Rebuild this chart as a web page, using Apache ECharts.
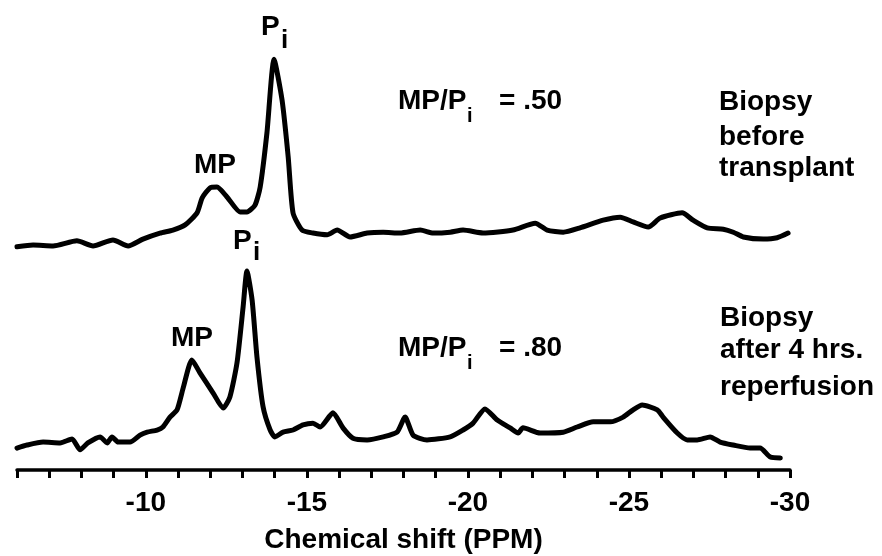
<!DOCTYPE html>
<html>
<head>
<meta charset="utf-8">
<script src="https://cdn.jsdelivr.net/npm/echarts@6/dist/echarts.min.js"></script>
<style>
html,body{margin:0;padding:0;background:#fff;}
#main{width:882px;height:556px;}
</style>
</head>
<body>
<div id="main"></div>
<script>
// Chemical shift (ppm) tick labels shown on the axis
var tickLabels = [-10, -15, -20, -25, -30];

// Top spectrum: biopsy before transplant  [ppm, relative intensity]
var beforeSpectrum = [
  [-6.0,1.9],[-6.5,2.3],[-7.12,2.1],[-7.86,3.3],[-8.36,2.1],[-8.98,3.5],[-9.45,2.1],[-9.91,3.7],
  [-10.44,5.1],[-10.84,5.8],[-11.22,7.0],[-11.59,9.8],[-11.75,13.3],[-11.99,15.6],[-12.21,15.8],
  [-12.52,13.5],[-12.93,10.0],[-13.14,10.0],[-13.39,11.6],[-13.55,15.8],[-13.76,28.4],[-13.98,45.5],
  [-14.23,36.0],[-14.42,22.8],[-14.57,9.8],[-14.85,5.8],[-15.19,5.1],[-15.63,4.7],[-15.94,5.8],
  [-16.34,4.2],[-16.87,5.1],[-17.37,5.3],[-17.89,5.1],[-18.52,5.8],[-18.92,5.1],[-19.45,5.3],
  [-19.85,5.8],[-20.47,5.1],[-21.40,5.8],[-22.09,7.4],[-22.46,5.8],[-22.96,5.3],[-23.48,6.3],
  [-24.20,8.1],[-24.73,8.8],[-25.13,7.7],[-25.60,6.5],[-25.97,8.6],[-26.65,9.8],[-26.99,8.1],
  [-27.43,6.3],[-27.93,6.0],[-28.24,5.3],[-28.55,4.2],[-29.17,3.7],[-29.60,4.0],[-29.94,5.1]
];

// Bottom spectrum: biopsy after 4 hrs. reperfusion  [ppm, relative intensity]
var afterSpectrum = [
  [-6.0,5.1],[-6.31,5.8],[-6.81,6.5],[-7.34,6.3],[-7.71,7.2],[-7.96,4.7],[-8.20,6.3],[-8.58,7.7],
  [-8.80,6.3],[-8.95,7.7],[-9.14,6.5],[-9.51,6.5],[-9.82,8.1],[-10.04,8.8],[-10.35,9.3],[-10.53,10.0],
  [-10.75,12.3],[-10.97,14.0],[-11.16,19.1],[-11.43,25.6],[-11.68,22.6],[-12.09,17.9],[-12.40,14.4],
  [-12.61,17.0],[-12.83,24.9],[-13.02,37.9],[-13.14,46.3],[-13.30,39.5],[-13.45,26.3],[-13.64,14.7],
  [-13.86,9.3],[-14.01,7.7],[-14.26,8.8],[-14.57,9.3],[-14.88,10.5],[-15.19,10.9],[-15.41,10.0],
  [-15.81,13.3],[-16.12,9.8],[-16.43,7.4],[-16.87,7.0],[-17.37,7.7],[-17.80,8.8],[-18.05,12.3],
  [-18.30,8.1],[-18.73,7.0],[-19.45,7.7],[-19.85,9.3],[-20.16,10.9],[-20.53,14.2],[-20.91,11.6],
  [-21.31,9.8],[-21.56,8.6],[-21.71,9.8],[-22.24,8.6],[-22.96,8.8],[-23.39,10.0],[-23.89,11.2],
  [-24.42,11.2],[-24.82,12.3],[-25.13,14.0],[-25.41,15.1],[-25.88,14.0],[-26.06,12.3],[-26.50,8.6],
  [-26.81,7.0],[-27.12,7.0],[-27.52,7.7],[-27.83,6.5],[-28.24,5.8],[-28.76,5.1],[-29.07,5.1],
  [-29.39,3.0],[-29.70,2.8]
];

// MP / Pi ratios
var ratioBefore = '.50';
var ratioAfter = '.80';

var TOP_OFFSET = 50; // vertical stacking of the upper trace

var FONT = '"Liberation Sans", Arial, Helvetica, sans-serif';

function shifted(arr, off) {
  return arr.map(function (p) { return [p[0], p[1] + off]; });
}

var chart = echarts.init(document.getElementById('main'), null, {renderer: 'canvas'});

var lineStyle = {color: '#000', width: 5, cap: 'round', join: 'round'};

function txt(x, y, s, size, extra) {
  var st = {text: s, fontFamily: FONT, fontWeight: 'bold', fontSize: size, fill: '#000',
            verticalAlign: 'middle', align: 'left'};
  if (extra) for (var k in extra) st[k] = extra[k];
  return {type: 'text', x: x, y: y, style: st, silent: true};
}

var graphics = [
  // top trace labels
  txt(261, 27, 'P', 28), txt(281, 41, 'i', 26),
  txt(194, 165, 'MP', 28),
  // bottom trace labels
  txt(233, 241, 'P', 28), txt(253, 253, 'i', 26),
  txt(171, 338, 'MP', 28),
  // ratios
  txt(398, 101, 'MP/P', 28), txt(467, 116, 'i', 20), txt(499, 101, '= ' + ratioBefore, 28),
  txt(398, 348, 'MP/P', 28), txt(467, 363, 'i', 20), txt(499, 348, '= ' + ratioAfter, 28),
  // descriptions
  txt(719, 102, 'Biopsy', 28), txt(719, 137, 'before', 28), txt(719, 168, 'transplant', 28),
  txt(720, 318, 'Biopsy', 28), txt(720, 350, 'after 4 hrs.', 28), txt(720, 387, 'reperfusion', 28)
];

chart.setOption({
  animation: false,
  backgroundColor: '#fff',
  grid: {left: 17, right: 92, top: 40, bottom: 86, containLabel: false, outerBoundsMode: 'none'},
  xAxis: {
    type: 'value', min: -30, max: -6, interval: 1, inverse: true,
    name: 'Chemical shift (PPM)', nameLocation: 'middle', nameGap: 56,
    nameTextStyle: {fontFamily: FONT, fontWeight: 'bold', fontSize: 28, color: '#000'},
    axisLine: {lineStyle: {color: '#000', width: 3.5}},
    axisTick: {length: 8, lineStyle: {color: '#000', width: 3}},
    axisLabel: {
      margin: 19, fontFamily: FONT, fontWeight: 'bold', fontSize: 28, color: '#000',
      showMinLabel: true, showMaxLabel: true,
      formatter: function (v) { return tickLabels.indexOf(v) >= 0 ? String(v) : ''; }
    },
    splitLine: {show: false}
  },
  yAxis: {type: 'value', min: 0, max: 100, show: false},
  series: [
    {type: 'line', data: shifted(beforeSpectrum, TOP_OFFSET), showSymbol: false, smooth: 0.2,
     lineStyle: lineStyle, silent: true},
    {type: 'line', data: afterSpectrum, showSymbol: false, smooth: 0.2,
     lineStyle: lineStyle, silent: true}
  ],
  graphic: graphics
});
</script>
</body>
</html>
